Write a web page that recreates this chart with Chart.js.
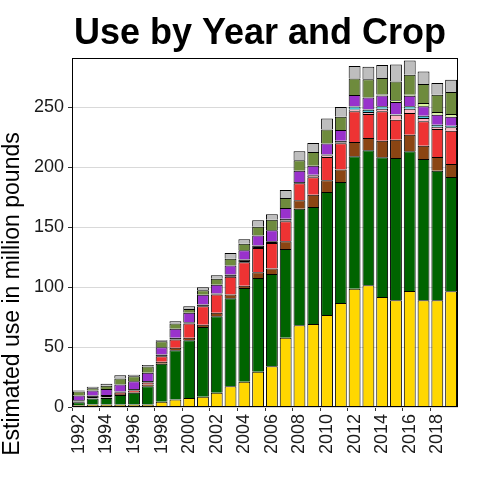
<!DOCTYPE html>
<html>
<head>
<meta charset="utf-8">
<script src="https://cdn.jsdelivr.net/npm/chart.js@4"></script>
<style>
  html, body { margin: 0; padding: 0; background: #fff; }
  #chart { display: block; }
</style>
</head>
<body>
<canvas id="chart" width="480" height="480"></canvas>
<script>
// Años y series (millones de libras)
const years = [1992, 1993, 1994, 1995, 1996, 1997, 1998, 1999, 2000, 2001,
               2002, 2003, 2004, 2005, 2006, 2007, 2008, 2009, 2010, 2011,
               2012, 2013, 2014, 2015, 2016, 2017, 2018, 2019];

const gold = [1.5, 2, 2, 2, 2, 2, 4.3, 6.2, 7.6, 8.5,
              11.8, 17.4, 21, 29.3, 34, 57.7, 68.2, 69.3, 76.8, 86.8,
              98.5, 101.5, 91.8, 89, 96.8, 89, 89, 96.5];
const darkGreen = [2.5, 5, 5.6, 8.1, 9.8, 15.4, 31.7, 41.1, 48.1, 58.3,
                   63.9, 73.3, 78.3, 78.3, 77, 74.1, 97, 97.5, 102.5, 100.9,
                   110.5, 112.5, 116.4, 118.6, 116.4, 117.8, 108, 95.3];
const brown = [0.3, 0.3, 0.3, 0.8, 0.8, 1.3, 1.7, 2, 2, 1.7,
               2.8, 3, 1.9, 4.7, 4.4, 6.4, 7.1, 10.2, 9.7, 10.3,
               12, 10.3, 13.8, 15.3, 13.8, 11.1, 11.4, 10.9];
const red = [0.3, 0.2, 0.2, 0.9, 1.2, 1.8, 4.6, 6.9, 11.9, 15.5,
             15.2, 14.8, 19.5, 20.3, 21.4, 16.6, 14.2, 14.5, 19.5, 22,
             25.7, 20, 24.5, 16.7, 18.2, 20.3, 23.4, 27.7];
const pink = [0, 0, 0, 0, 0, 0, 0, 0, 0, 0,
              0, 0, 0, 0, 0, 1, 0.3, 1.4, 1.3, 0.8,
              1.3, 1.7, 2.2, 4.1, 3.5, 2.8, 1.9, 2.8];
const cyan = [0, 0, 0, 0, 0, 0, 0, 0, 0, 0,
              0, 0, 0, 0, 0, 0, 0, 0, 0, 0,
              2.5, 1.9, 2, 0.4, 2, 1.9, 1.7, 1.4];
const black = [1, 2.1, 2, 1.2, 1.3, 1.2, 1.4, 1.5, 1.1, 1.4,
               0.9, 1.9, 2.2, 2, 1.4, 1.2, 0.9, 0.8, 0.7, 1.2,
               0.3, 0.3, 0, 0, 0, 0, 0, 0];
const purple = [4, 4.2, 5, 5.7, 6.4, 6.8, 6.1, 7.5, 7.8, 8.1,
                7.4, 7.5, 7.7, 8.3, 9.1, 9, 9.3, 7.5, 9.2, 9,
                9.3, 9.8, 9.1, 10.3, 8.8, 7.8, 8.3, 7.5];
const lightGreen = [0, 0, 0, 0, 0, 0, 0, 0, 0, 0,
                    0, 0, 0, 0, 0, 0, 0, 0, 0, 0,
                    0, 0, 0.8, 1.4, 0.9, 2.8, 2.3, 2.2];
const olive = [3.3, 1.9, 2.6, 5, 4.2, 5.3, 5, 4.4, 3.3, 3.8,
               5, 5.8, 5.6, 7.3, 8.9, 8.3, 8.7, 11.4, 11.6, 11,
               13.9, 15.3, 13.7, 15.6, 16.6, 15.8, 14.4, 18.4];
const grey = [0.9, 1.1, 1.6, 2.8, 1.1, 1.3, 0.9, 1.9, 2.2, 2.5,
              2.8, 4.8, 3.6, 5.5, 4.5, 6.7, 7.5, 7.5, 9.2, 8.2,
              10.3, 10.5, 10.9, 14.2, 12, 10.5, 9.8, 10.2];

const yTicks = [0, 50, 100, 150, 200, 250];

// Orden de apilado (de abajo hacia arriba) y colores
const series = [
    { name: 'gold', data: gold, color: '#FFD700' },
    { name: 'darkGreen', data: darkGreen, color: '#006400' },
    { name: 'brown', data: brown, color: '#8B4513' },
    { name: 'red', data: red, color: '#EE3333' },
    { name: 'pink', data: pink, color: '#FFB6C1' },
    { name: 'cyan', data: cyan, color: '#48C8D8' },
    { name: 'black', data: black, color: '#000000' },
    { name: 'purple', data: purple, color: '#9932CC' },
    { name: 'lightGreen', data: lightGreen, color: '#D8F59A' },
    { name: 'olive', data: olive, color: '#6E8B3D' },
    { name: 'grey', data: grey, color: '#BEBEBE' }
];

const FONT = "'Liberation Sans', Arial, sans-serif";
Chart.defaults.font.family = FONT;

// Título, título del eje Y y borde del panel
const decoraciones = {
    id: 'decoraciones',
    afterDatasetsDraw(chart) {
        const { ctx, chartArea } = chart;
        ctx.save();
        ctx.strokeStyle = '#000';
        ctx.lineWidth = 1;
        ctx.strokeRect(chartArea.left + 0.5, chartArea.top + 0.5,
                       chartArea.right - chartArea.left - 1, chartArea.bottom - chartArea.top - 1);
        ctx.restore();
    },
    afterDraw(chart) {
        const { ctx } = chart;
        ctx.save();
        ctx.fillStyle = '#000';
        ctx.font = "bold 36px " + FONT;
        ctx.textAlign = 'center';
        ctx.textBaseline = 'alphabetic';
        ctx.fillText('Use by Year and Crop', 260, 44);

        ctx.translate(19, 294);
        ctx.rotate(-Math.PI / 2);
        ctx.font = "23px " + FONT;
        ctx.fillStyle = '#000';
        ctx.textAlign = 'center';
        ctx.textBaseline = 'alphabetic';
        ctx.fillText('Estimated use in million pounds', 0, 0);
        ctx.restore();
    }
};

new Chart(document.getElementById('chart'), {
    type: 'bar',
    data: {
        labels: years,
        datasets: series.map(s => ({
            label: s.name,
            // los ceros no se dibujan (evita líneas sueltas)
            data: s.data.map(v => (v === 0 ? null : v)),
            backgroundColor: s.color,
            borderColor: '#000',
            // un solo trazo entre segmentos contiguos
            borderWidth: { top: 1, left: 1, right: 1, bottom: 0 },
            borderSkipped: false,
            barPercentage: 0.86,
            categoryPercentage: 1
        }))
    },
    options: {
        responsive: false,
        animation: false,
        layout: { padding: { top: 58, right: 22, left: 0, bottom: 0 } },
        plugins: {
            legend: { display: false },
            title: { display: false },
            tooltip: { enabled: false }
        },
        scales: {
            x: {
                stacked: true,
                afterFit: scale => { scale.height = 73; },
                border: { display: false },
                grid: {
                    drawOnChartArea: false,
                    drawTicks: true,
                    tickLength: 4,
                    tickColor: ctx => (ctx.index % 2 === 0 ? '#333' : 'rgba(0,0,0,0)')
                },
                ticks: {
                    autoSkip: false,
                    minRotation: 90,
                    maxRotation: 90,
                    padding: 3,
                    color: '#1a1a1a',
                    font: { size: 18 },
                    callback: (v, i) => (years[i] % 2 === 0 ? String(years[i]) : '')
                }
            },
            y: {
                stacked: true,
                min: 0,
                max: 291,
                afterFit: scale => { scale.width = 72; },
                afterBuildTicks: scale => { scale.ticks = yTicks.map(v => ({ value: v })); },
                border: { display: false },
                grid: {
                    color: '#d9d9d9',
                    lineWidth: 1,
                    drawTicks: true,
                    tickLength: 4,
                    tickColor: '#333'
                },
                ticks: {
                    padding: 4,
                    color: '#1a1a1a',
                    font: { size: 18 }
                }
            }
        }
    },
    plugins: [decoraciones]
});
</script>
</body>
</html>
